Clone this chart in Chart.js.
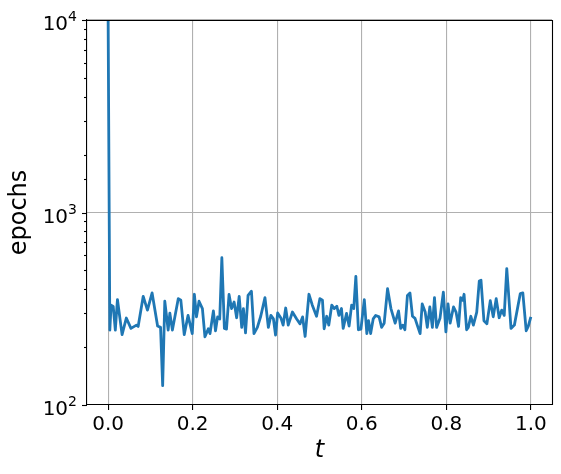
<!DOCTYPE html>
<html>
<head>
<meta charset="utf-8">
<script src="https://cdn.jsdelivr.net/npm/chart.js@4"></script>
<style>
  html, body { margin: 0; padding: 0; background: #fff; }
  #wrap { width: 561px; height: 474px; }
</style>
</head>
<body>
<div id="wrap"><canvas id="epochsChart" width="561" height="474"></canvas></div>
<script>
// t values and epochs
const tValues = [
  0.000, 0.004, 0.007, 0.012, 0.017, 0.022, 0.033, 0.043, 0.054, 0.067,
  0.071, 0.083, 0.093, 0.104, 0.117, 0.124, 0.129, 0.134, 0.142, 0.146,
  0.152, 0.166, 0.172, 0.180, 0.189, 0.199, 0.204, 0.209, 0.215, 0.223,
  0.229, 0.237, 0.241, 0.249, 0.254, 0.259, 0.264, 0.269, 0.275, 0.280,
  0.286, 0.292, 0.298, 0.304, 0.310, 0.316, 0.320, 0.325, 0.331, 0.339,
  0.345, 0.353, 0.361, 0.371, 0.379, 0.385, 0.391, 0.396, 0.401, 0.409,
  0.414, 0.420, 0.426, 0.436, 0.446, 0.454, 0.460, 0.466, 0.475, 0.483,
  0.493, 0.501, 0.507, 0.511, 0.517, 0.522, 0.529, 0.535, 0.541, 0.546,
  0.552, 0.556, 0.564, 0.570, 0.576, 0.581, 0.586, 0.592, 0.598, 0.606,
  0.612, 0.616, 0.621, 0.627, 0.633, 0.641, 0.647, 0.653, 0.661, 0.669,
  0.679, 0.687, 0.692, 0.697, 0.702, 0.708, 0.714, 0.720, 0.726, 0.732,
  0.738, 0.743, 0.750, 0.755, 0.761, 0.767, 0.772, 0.777, 0.785, 0.793,
  0.799, 0.804, 0.809, 0.817, 0.823, 0.829, 0.834, 0.839, 0.842, 0.848,
  0.852, 0.858, 0.864, 0.872, 0.878, 0.882, 0.889, 0.896, 0.904, 0.911,
  0.918, 0.925, 0.931, 0.937, 0.943, 0.947, 0.953, 0.961, 0.975, 0.981,
  0.989, 0.994, 1.000
];
const epochs = [
  10000, 245, 330, 325, 245, 353, 232, 283, 250, 260,
  256, 367, 311, 382, 257, 253, 126, 346, 245, 300,
  245, 357, 350, 232, 292, 235, 376, 287, 346, 317,
  226, 249, 235, 308, 243, 287, 280, 582, 250, 248,
  375, 317, 343, 284, 367, 253, 317, 237, 371, 390,
  235, 253, 289, 361, 253, 292, 280, 231, 301, 282,
  260, 319, 260, 304, 280, 264, 287, 227, 376, 330,
  289, 357, 350, 249, 289, 260, 330, 317, 326, 292,
  317, 250, 299, 257, 330, 317, 466, 246, 248, 353,
  235, 274, 235, 280, 292, 287, 253, 266, 402, 317,
  266, 308, 250, 260, 246, 371, 382, 289, 282, 257,
  235, 335, 304, 253, 323, 253, 361, 253, 282, 386,
  240, 335, 266, 323, 304, 256, 361, 350, 376, 246,
  253, 289, 260, 304, 441, 445, 274, 264, 348, 287,
  357, 284, 311, 292, 511, 386, 250, 260, 379, 382,
  243, 257, 287
];
const xTickStep = 0.2;
const yLimits = [100, 10000];

const FONT = "DejaVu Sans";

function isPow10(v) {
  const l = Math.log10(v);
  return Math.abs(l - Math.round(l)) < 1e-9;
}

// box on top/right, y tick marks and 10^n labels
const framePlugin = {
  id: "frame",
  afterDraw(chart) {
    const ctx = chart.ctx;
    const a = chart.chartArea;
    const y = chart.scales.y;
    ctx.save();
    ctx.strokeStyle = "#000";
    ctx.lineWidth = 1.1;
    ctx.beginPath();
    ctx.moveTo(a.left, a.top + 0.5);
    ctx.lineTo(a.right + 0.5, a.top + 0.5);
    ctx.lineTo(a.right + 0.5, a.bottom);
    ctx.stroke();

    ctx.fillStyle = "#000";
    y.ticks.forEach(function (t) {
      const py = Math.round(y.getPixelForValue(t.value)) + 0.5;
      const major = isPow10(t.value);
      const len = major ? 5 : 3;
      ctx.beginPath();
      ctx.moveTo(a.left, py);
      ctx.lineTo(a.left - len, py);
      ctx.stroke();
      if (major) {
        const exp = String(Math.round(Math.log10(t.value)));
        const right = a.left - 10;
        ctx.font = "14px " + FONT;
        const supW = ctx.measureText(exp).width;
        ctx.textBaseline = "alphabetic";
        ctx.textAlign = "left";
        ctx.fillText(exp, right - supW, py);
        ctx.font = "20px " + FONT;
        ctx.textAlign = "right";
        ctx.fillText("10", right - supW, py + 9);
      }
    });
    ctx.restore();
  }
};

const ctx = document.getElementById("epochsChart").getContext("2d");
new Chart(ctx, {
  type: "line",
  data: {
    datasets: [{
      data: tValues.map(function (t, i) { return { x: t, y: epochs[i] }; }),
      borderColor: "#1f77b4",
      borderWidth: 2.8,
      borderJoinStyle: "round",
      pointRadius: 0,
      tension: 0,
      fill: false
    }]
  },
  options: {
    responsive: false,
    animation: false,
    layout: { padding: { top: 20, right: 9, left: 0, bottom: 0 } },
    plugins: {
      legend: { display: false },
      tooltip: { enabled: false }
    },
    scales: {
      x: {
        type: "linear",
        min: -0.05,
        max: 1.05,
        afterFit: function (scale) { scale.height = 69; },
        ticks: {
          stepSize: xTickStep,
          includeBounds: false,
          color: "#000",
          padding: 3,
          font: { family: FONT, size: 20 },
          callback: function (v) { return v.toFixed(1); }
        },
        grid: {
          color: "#b0b0b0",
          lineWidth: 1.1,
          tickColor: "#000",
          tickLength: 5,
          tickWidth: 1.1
        },
        border: { display: true, color: "#000", width: 1.1 },
        title: {
          display: true,
          text: "t",
          color: "#000",
          font: { family: FONT, size: 24, style: "italic" },
          padding: { top: 0, bottom: 9 }
        }
      },
      y: {
        type: "logarithmic",
        min: yLimits[0],
        max: yLimits[1],
        afterFit: function (scale) { scale.width = 87; },
        ticks: { display: false },
        grid: {
          color: function (c) {
            return c.tick && isPow10(c.tick.value) ? "#b0b0b0" : "rgba(0,0,0,0)";
          },
          lineWidth: 1.1,
          drawTicks: false
        },
        border: { display: true, color: "#000", width: 1.1 },
        title: {
          display: true,
          text: "epochs",
          color: "#000",
          font: { family: FONT, size: 24 },
          padding: { top: 5, bottom: 0 }
        }
      }
    }
  },
  plugins: [framePlugin]
});
</script>
</body>
</html>
